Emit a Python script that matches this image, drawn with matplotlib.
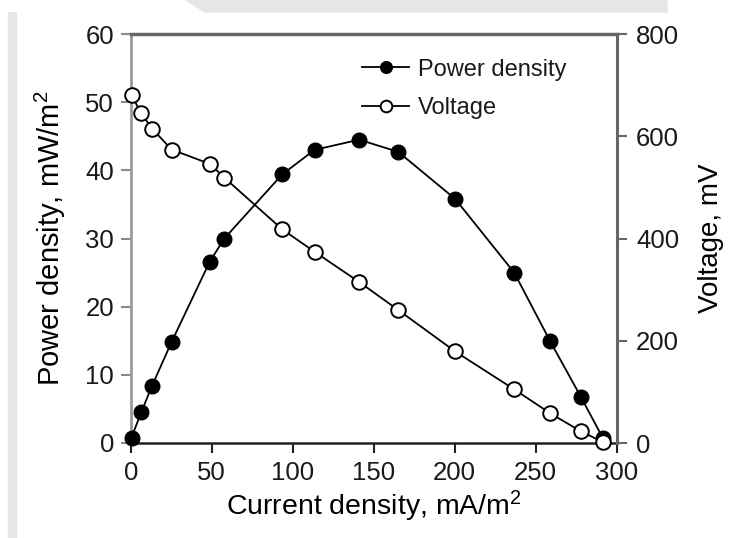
import matplotlib
matplotlib.use('Agg')
import matplotlib.pyplot as plt
from matplotlib.patches import Rectangle, Polygon

plt.rcParams['font.family'] = ['Liberation Sans', 'DejaVu Sans']
plt.rcParams['mathtext.fontset'] = 'custom'
plt.rcParams['mathtext.rm'] = 'Liberation Sans'
plt.rcParams['mathtext.it'] = 'Liberation Sans:italic'
plt.rcParams['text.color'] = '#1a1a1a'

# 读图得到的数据
current = [0.5, 6.5, 13.2, 25.2, 48.8, 57.8, 93.5, 113.5, 141.0, 165.2, 200.3, 236.7, 259.0, 277.8, 291.3]
power = [0.8, 4.5, 8.4, 14.8, 26.6, 30.0, 39.4, 43.0, 44.5, 42.7, 35.8, 25.0, 14.9, 6.8, 0.8]
voltage = [680, 645, 615, 574, 546, 519, 418, 374, 315, 260, 179, 105, 58, 23, 2]

x_ticks = [0, 50, 100, 150, 200, 250, 300]
p_ticks = [0, 10, 20, 30, 40, 50, 60]
v_ticks = [0, 200, 400, 600, 800]

W, H = 729, 538
fig = plt.figure(figsize=(W / 100, H / 100), dpi=100)

# 原图背景上的灰色条
fig.patches.append(Rectangle((8 / W, 0), 8 / W, (H - 12) / H, transform=fig.transFigure,
                             color='#e6e6e6', zorder=0))
fig.patches.append(Polygon([(186 / W, 1), (205 / W, 1 - 12 / H), (667 / W, 1 - 12 / H), (667 / W, 1)],
                           closed=True, transform=fig.transFigure, color='#e6e6e6', zorder=0))

ax = fig.add_axes([130.7 / W, 1 - 443 / H, 486 / W, 409 / H])
ax.patch.set_alpha(0)
ax2 = ax.twinx()

l1, = ax.plot(current, power, '-o', color='black', mfc='black', mec='black',
              ms=10.5, lw=1.3, clip_on=False, zorder=3, label='Power density')
l2, = ax2.plot(current, voltage, '-o', color='black', mfc='white', mec='black',
               mew=1.4, ms=10.5, lw=1.3, clip_on=False, zorder=3, label='Voltage')

ax.set_xlim(0, 300)
ax.set_ylim(0, 60)
ax2.set_ylim(0, 800)
ax.set_xticks(x_ticks)
ax.set_yticks(p_ticks)
ax2.set_yticks(v_ticks)

# 坐标轴线样式
ax.spines['right'].set_visible(False)
ax.spines['top'].set_visible(False)
ax2.spines['left'].set_visible(False)
ax2.spines['bottom'].set_visible(False)
ax.spines['left'].set_color('#9a9a9a')
ax.spines['left'].set_linewidth(2)
ax.spines['bottom'].set_color('#222222')
ax.spines['bottom'].set_linewidth(1.8)
ax2.spines['top'].set_color('#666666')
ax2.spines['top'].set_linewidth(2.5)
ax2.spines['right'].set_color('#666666')
ax2.spines['right'].set_linewidth(2.2)

ax.tick_params(axis='y', direction='out', length=7, width=1.5, color='#8a8a8a',
               labelsize=18.5, pad=5, labelcolor='#1a1a1a')
ax.tick_params(axis='x', direction='out', length=7, width=1.5, color='#222222',
               labelsize=18.5, pad=6, labelcolor='#1a1a1a')
ax2.tick_params(axis='y', direction='out', length=7, width=1.5, color='#666666',
                labelsize=18.5, pad=7, labelcolor='#1a1a1a')

ax.set_xlabel('Current density, mA/m$^2$', fontsize=20.5)
ax.set_ylabel('Power density, mW/m$^2$', fontsize=21)
ax2.set_ylabel('Voltage, mV', fontsize=20)
ax.xaxis.set_label_coords(0.5, -0.112)
ax.yaxis.set_label_coords(-0.13, 0.5)
ax2.yaxis.set_label_coords(1.168, 0.5)

ax2.legend([l1, l2], ['Power density', 'Voltage'], loc='upper left',
           bbox_to_anchor=(0.476, 0.94), frameon=False, fontsize=17,
           handlelength=2.0, handletextpad=0.35, borderpad=0, borderaxespad=0,
           labelspacing=0.7, markerscale=0.8)

fig.savefig('out.png', dpi=100)
